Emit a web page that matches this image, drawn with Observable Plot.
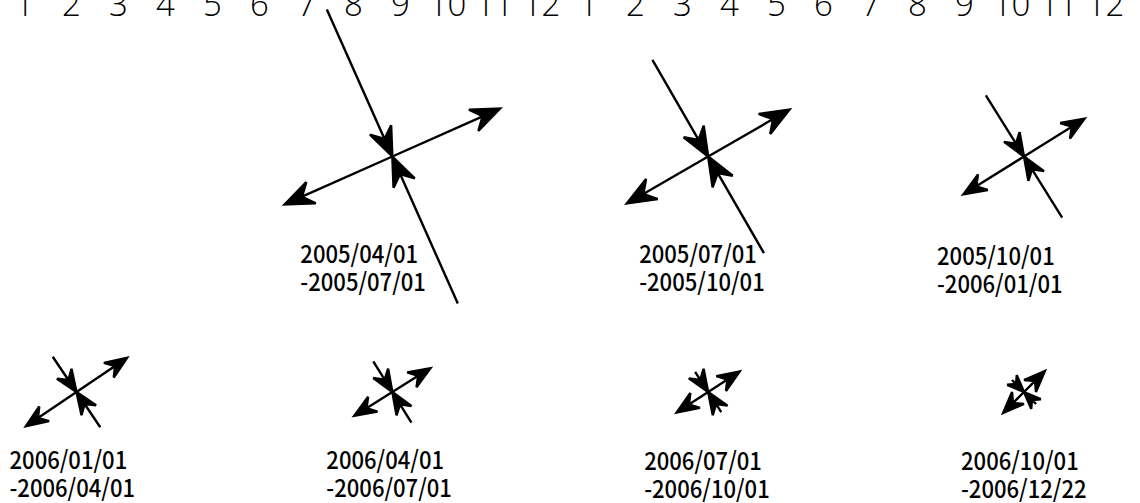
<!DOCTYPE html>
<html><head><meta charset="utf-8">
<script src="https://cdn.jsdelivr.net/npm/d3@7"></script>
<script src="https://cdn.jsdelivr.net/npm/@observablehq/plot@0.6"></script>
<style>
html,body{margin:0;padding:0;background:#fff;}
#wrap{position:relative;width:1140px;height:503px;overflow:hidden;background:#fff;}
#wrap svg{position:absolute;left:0;top:0;background:transparent;}
</style></head><body><div id="wrap"></div>
<script>
// ---- month strip (top) ----
const monthKeys = ["2005-01","2005-02","2005-03","2005-04","2005-05","2005-06","2005-07","2005-08","2005-09","2005-10","2005-11","2005-12",
                   "2006-01","2006-02","2006-03","2006-04","2006-05","2006-06","2006-07","2006-08","2006-09","2006-10","2006-11","2006-12"];
const monthLabels = ["1","2","3","4","5","6","7","8","9","10","11","12","1","2","3","4","5","6","7","8","9","10","11","12"];

// ---- principal strain data per period ----
const periodStart = ["2005/04/01","2005/07/01","2005/10/01","2006/01/01","2006/04/01","2006/07/01","2006/10/01"];
const periodEnd   = ["2005/07/01","2005/10/01","2006/01/01","2006/04/01","2006/07/01","2006/10/01","2006/12/22"];
const gridCol = [1,2,3,0,1,2,3];
const gridRow = [0,0,0,1,1,1,1];
const extension   = [1.18, 0.94, 0.715, 0.61, 0.45, 0.375, 0.295];
const compression = [1.61, 1.115, 0.72, 0.425, 0.36, 0.24, 0.17];
const azimuth     = [66, 60, 58, 56, 58, 57, 45]; // extension axis, degrees clockwise from north

// layout / style (pixels)
const labelDx = [-92, -69, -87, -67, -66, -64, -63];
const labelDy = [134, 134, 136, 105, 105, 105.5, 105.5];
const headSize = [29, 29, 23, 22, 22, 22, 21];

function barbed(size) {
  return {
    draw(context, l) {
      const h = Math.min(l, size);
      const w = 0.4 * h, notch = 0.66 * h;
      context.moveTo(0, 0);
      context.lineTo(0, -l + notch);
      context.moveTo(0, -l);
      context.lineTo(w, -l + h);
      context.lineTo(0, -l + notch);
      context.lineTo(-w, -l + h);
      context.closePath();
    }
  };
}

const style = {x: "col", y: "row", length: "value", rotate: "angle",
  stroke: "black", fill: "black", strokeWidth: 2.4, strokeLinejoin: "miter", strokeLinecap: "butt"};

const marks = [];
periodStart.forEach((s, i) => {
  const ext = [0, 180].map(k => ({col: gridCol[i], row: gridRow[i], value: extension[i], angle: azimuth[i] + k}));
  const comp = [0, 180].map(k => ({col: gridCol[i], row: gridRow[i], value: compression[i], angle: azimuth[i] + 90 + k}));
  const shape = barbed(headSize[i]);
  marks.push(Plot.vector(ext, {...style, shape, anchor: "start"}));
  marks.push(Plot.vector(comp, {...style, shape, anchor: "end"}));
  marks.push(Plot.text([{col: gridCol[i], row: gridRow[i], text: s + "\n-" + periodEnd[i]}], {
    x: "col", y: "row", text: "text", dx: labelDx[i], dy: labelDy[i],
    textAnchor: "start", lineAnchor: "bottom", lineHeight: 28 / 24.5,
    fontSize: 24.5, fontFamily: "Noto Sans CJK JP", fontWeight: 500, fill: "black"
  }));
});

const main = Plot.plot({
  width: 1140, height: 503,
  marginLeft: 76, marginRight: 116.5, marginTop: 156, marginBottom: 111.5,
  x: {domain: [0, 3], axis: null},
  y: {domain: [0, 1], reverse: true, axis: null},
  length: {domain: [0, 1], range: [0, 100]},
  style: {background: "transparent"},
  marks
});

// condense the date labels horizontally (narrow gothic look)
const sx = 0.9;
for (const t of main.querySelectorAll('g[aria-label="text"] text')) {
  let tr = t.getAttribute("transform") || "";
  const x = t.getAttribute("x"), y = t.getAttribute("y");
  if (x != null || y != null) {
    tr = `translate(${x || 0},${y || 0}) ` + tr;
    t.removeAttribute("x"); t.removeAttribute("y");
  }
  t.setAttribute("transform", tr + ` scale(${sx},1)`);
}

const strip = Plot.plot({
  width: 1140, height: 40,
  marginTop: 15, marginBottom: 0, marginLeft: 15, marginRight: 27,
  x: {type: "point", domain: monthKeys, padding: 0},
  style: {background: "transparent"},
  marks: [
    Plot.axisX({anchor: "top", tickSize: 0, tickPadding: 0, label: null,
      tickFormat: d => monthLabels[monthKeys.indexOf(d)],
      fontSize: 33, fontFamily: "Open Sans", fontWeight: 300, fill: "black"})
  ]
});

const wrap = document.getElementById("wrap");
wrap.appendChild(strip);
wrap.appendChild(main);
</script>
</body></html>
